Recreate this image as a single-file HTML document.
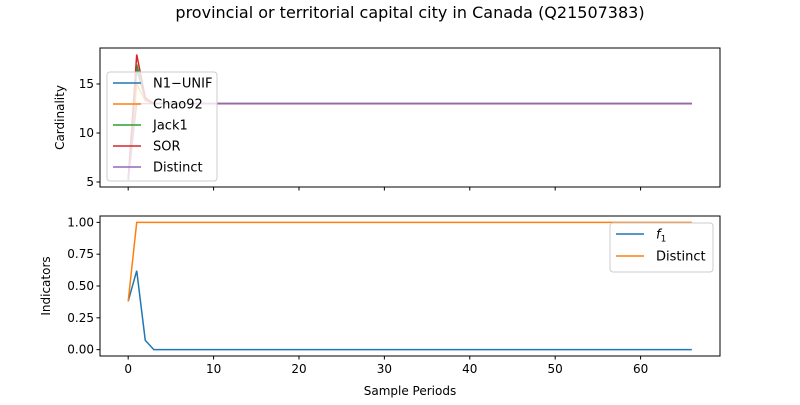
<!DOCTYPE html>
<html><head><meta charset="utf-8"><style>
body{margin:0;background:#fff;font-family:"Liberation Sans","DejaVu Sans",sans-serif;}
text{font-family:"DejaVu Sans","Liberation Sans",sans-serif;}
</style></head><body>
<svg id="c" width="800" height="400" viewBox="0 0 800 400">
<text x="410" y="18" font-size="16" text-anchor="middle">provincial or territorial capital city in Canada (Q21507383)</text>
</svg>
<script>
const xs = Array.from({length:67},(_,i)=>i);
const n1 = [5.2,16.5,13.5,13].concat(Array(63).fill(13));
const chao = [5.2,15,13.3,13].concat(Array(63).fill(13));
const jack = [5.2,17,13.5,13].concat(Array(63).fill(13));
const sor = [5.2,18,13.6,13].concat(Array(63).fill(13));
const distinct = [5.2,13,13,13].concat(Array(63).fill(13));
const f1 = [0.38,0.62,0.073,0].concat(Array(63).fill(0));
const distInd = [0.38,1,1,1].concat(Array(63).fill(1));
const xTicks=[0,10,20,30,40,50,60];
const topTicks=[5,10,15];
const botTicks=[0,0.25,0.5,0.75,1.0];
const botTickLabels=["0.00","0.25","0.50","0.75","1.00"];
const svg=document.getElementById('c');
const NS='http://www.w3.org/2000/svg';
function mk(t,a,p){const e=document.createElementNS(NS,t);for(const k in a)e.setAttribute(k,a[k]);(p||svg).appendChild(e);return e;}
const L=100,R=720,xmin=-3.3,xmax=69.3;
const X=v=>L+(v-xmin)/(xmax-xmin)*(R-L);
const T={top:48,bot:187,min:4.49,max:18.67};
const B={top:216,bot:356,min:-0.05,max:1.05};
const Y=(ax,v)=>ax.bot-(v-ax.min)/(ax.max-ax.min)*(ax.bot-ax.top);
function line(ax,vals,color,name){
  const p=mk('polyline',{points:vals.map((v,i)=>X(xs[i])+','+Y(ax,v)).join(' '),fill:'none',stroke:color,'stroke-width':1.5});
  
  
}
function axes(ax,ticks,labels,ylab,showX,nm){
  const r=mk('rect',{x:L,y:ax.top,width:R-L,height:ax.bot-ax.top,fill:'none',stroke:'#000','stroke-width':1});
  
  
  ticks.forEach((t,i)=>{const y=Y(ax,t);mk('line',{x1:L-3.5,x2:L,y1:y,y2:y,stroke:'#000'});
    const tx=mk('text',{x:L-6,y:y+4,'font-size':12,'text-anchor':'end'});tx.textContent=labels[i];
    
    });
  xTicks.forEach(t=>{const x=X(t);mk('line',{x1:x,x2:x,y1:ax.bot,y2:ax.bot+3.5,stroke:'#000'});
    if(showX){const tx=mk('text',{x:x,y:ax.bot+17,'font-size':12,'text-anchor':'middle'});tx.textContent=t;
    
    }});
  const yl=mk('text',{x:0,y:0,'font-size':12,'text-anchor':'middle',transform:`translate(${nm==='top'?64:50},${(ax.top+ax.bot)/2}) rotate(-90)`});
  yl.textContent=ylab;
  
  
}
axes(T,topTicks,topTicks.map(String),'Cardinality',false,'top');
axes(B,botTicks,botTickLabels,'Indicators',true,'bottom');
line(T,n1,'#1f77b4','n1-unif-line');
line(T,chao,'#ff7f0e','chao92-line');
line(T,jack,'#2ca02c','jack1-line');
line(T,sor,'#d62728','sor-line');
line(T,distinct,'#9467bd','distinct-line');
line(B,f1,'#1f77b4','f1-line');
line(B,distInd,'#ff7f0e','distinct-indicator-line');
const xl=mk('text',{x:410,y:395,'font-size':12,'text-anchor':'middle'});xl.textContent='Sample Periods';


function legend(x,y,w,h,sp,entries,nm){
  const g=mk('g',{});
  
  
  mk('rect',{x:x,y:y,width:w,height:h,rx:3,fill:'#fff','fill-opacity':0.8,stroke:'#ccc'},g);
  entries.forEach((e,i)=>{const cy=y+11+i*sp;
    mk('line',{x1:x+6,x2:x+34,y1:cy,y2:cy,stroke:e[1],'stroke-width':1.5},g);
    const t=mk('text',{x:x+46,y:cy+4.5,'font-size':13},g);t.innerHTML=e[0];});
}
legend(107,72,110,109,21,[['N1−UNIF','#1f77b4'],['Chao92','#ff7f0e'],['Jack1','#2ca02c'],['SOR','#d62728'],['Distinct','#9467bd']],'top-legend');
legend(610,223,103,49,22,[['<tspan font-style="italic">f</tspan><tspan font-size="9" dy="3">1</tspan>','#1f77b4'],['Distinct','#ff7f0e']],'bottom-legend');
</script>
</body></html>
